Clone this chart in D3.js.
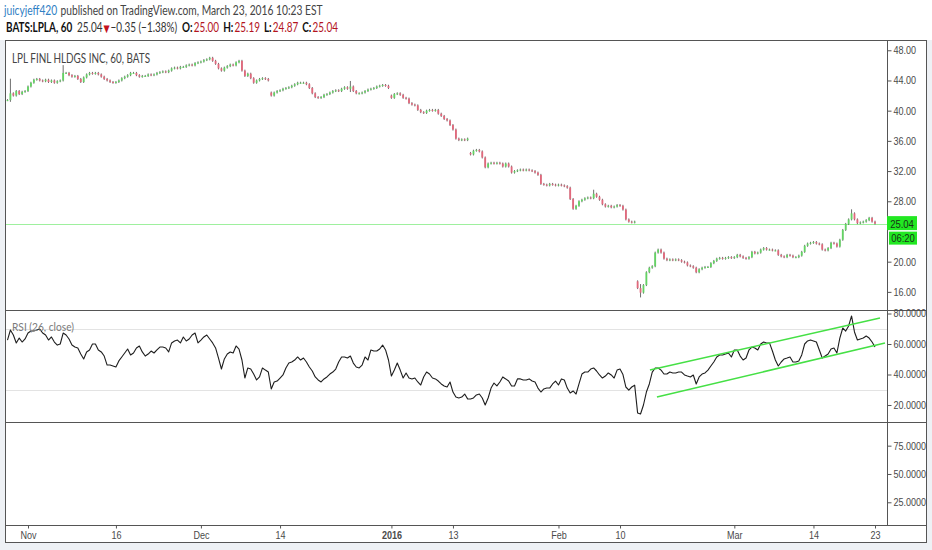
<!DOCTYPE html>
<html><head><meta charset="utf-8">
<script src="https://cdn.jsdelivr.net/npm/d3@7"></script>
<style>
html,body{margin:0;padding:0;background:#eef1f5;}
svg{display:block;}
</style></head><body>
<svg id="c" width="932" height="550"></svg>
<script>
// ---------- DATA ----------
// hourly-ish closes, ~3 points per session (2 on half days)
const closes = [
41.4,42.3,42.0,42.6,42.2,42.5,42.6,43.2,43.7,44.1,
44.2,44.0,43.9,44.1,43.8,44.0,43.7,43.9,44.0,45.0,
45.0,44.7,44.5,44.6,44.2,43.8,44.4,44.8,45.0,44.9,
45.0,44.8,44.5,44.2,44.0,43.8,43.7,43.8,44.0,44.3,
44.5,44.7,45.0,45.0,44.7,44.5,44.6,44.6,44.8,44.7,
44.8,45.0,45.1,45.2,45.1,45.3,45.6,45.7,45.6,45.8,
45.8,46.0,46.1,46.0,46.3,46.4,46.5,46.7,46.8,47.0,
46.6,46.2,45.6,45.3,45.7,45.9,46.1,46.0,46.4,46.6,
45.3,44.6,44.9,44.3,43.7,44.0,44.2,44.3,44.2,44.0,
42.0,42.4,42.6,42.7,42.9,43.0,43.1,43.3,43.5,43.7,
43.7,43.7,43.5,43.0,42.3,41.8,41.7,41.8,42.1,42.2,
42.4,42.6,42.7,42.6,42.9,43.1,42.9,43.2,42.6,42.3,
42.3,42.4,42.6,42.8,42.9,43.0,43.2,43.3,43.4,43.3,
43.0,41.7,42.2,42.3,42.1,41.7,41.6,41.0,40.8,40.7,
40.1,39.8,39.7,40.0,40.1,40.0,40.1,39.6,39.3,38.9,
38.7,38.1,37.5,36.3,36.1,36.2,36.1,36.3,34.2,34.7,
34.8,34.6,33.8,32.5,33.0,33.1,33.0,33.1,33.0,32.6,
33.0,32.6,31.8,32.0,32.1,32.2,32.1,32.2,32.1,32.0,
31.8,31.5,30.3,30.2,30.1,30.3,30.2,30.1,30.2,30.1,
30.0,29.8,28.3,27.0,27.4,28.0,28.2,28.4,28.5,28.4,
29.0,28.6,28.2,27.6,27.3,27.4,27.2,27.3,27.5,27.4,
26.9,25.6,25.3,25.2,25.3,16.5,15.9,16.9,18.6,19.2,
19.4,21.2,21.6,21.2,20.4,20.2,20.3,20.2,20.3,20.2,
20.0,19.9,19.5,19.4,19.2,18.6,19.0,19.2,19.3,19.3,
19.8,20.1,20.4,20.5,20.4,20.5,20.6,20.5,20.6,20.9,
20.7,20.5,20.4,20.6,21.3,21.1,21.2,21.6,21.8,21.6,
21.6,21.5,21.5,20.9,20.7,20.6,20.9,20.8,20.6,20.6,
20.8,21.3,22.1,22.4,22.5,22.6,22.4,22.3,21.6,21.5,
21.8,22.5,22.4,22.0,22.9,24.2,25.0,25.6,26.4,25.6,
25.1,25.2,25.3,25.5,25.8,25.3,25.04
];
// opening prices of the bars that gap away from the previous close
const gapIdx   = [90, 131, 158, 215];
const gapOpen  = [42.4, 42.0, 34.4, 17.4];
// long wicks visible in the picture
const wickIdx  = [1, 19, 117, 200, 216, 288];
const wickHigh = [44.1, 45.9, 43.8, 29.4, 16.9, 26.8];
const wickLow  = [41.3, 44.6, 42.6, 28.4, 15.4, 25.9];

const rsiValues = [
62.6,69.2,65.9,60.7,63.9,61.3,63.3,67.2,68.5,68.5,
69.2,69.8,67.2,65.9,62.6,64.6,61.3,59.3,60.0,67.2,
65.9,63.3,59.3,58.0,57.4,53.4,50.2,54.8,56.1,60.0,
60.0,56.1,54.8,52.1,46.2,46.2,45.6,44.9,48.9,51.5,
54.1,56.7,52.8,54.1,57.4,58.7,54.8,52.1,53.4,55.4,
54.1,56.1,58.0,58.0,57.4,54.8,60.7,62.0,62.6,60.7,
64.6,62.0,63.3,65.9,67.2,60.7,62.6,64.6,65.9,63.3,
60.7,57.4,50.8,43.6,50.2,53.4,54.8,54.1,58.7,56.7,
49.5,37.7,44.3,43.6,40.3,36.4,38.4,44.3,42.9,41.6,
30.5,35.1,35.7,37.7,39.7,44.3,47.5,48.2,49.5,51.5,
49.5,50.8,48.2,44.9,42.3,38.4,36.4,35.1,37.1,38.4,
40.3,41.6,43.6,48.2,51.5,51.5,50.8,52.1,47.5,44.9,
44.3,46.2,51.5,49.5,56.1,55.4,55.4,56.7,59.3,56.1,
49.5,39.0,42.9,47.5,42.9,37.7,41.0,37.7,37.1,37.7,
35.1,33.1,38.4,41.6,40.3,37.7,37.1,35.7,33.8,32.5,
31.8,35.1,28.5,25.2,24.6,25.2,27.2,24.0,23.9,24.6,
26.6,27.2,24.6,20.0,24.6,31.1,34.4,32.5,35.1,38.4,
37.1,35.7,32.5,32.5,37.1,37.1,36.4,36.4,37.1,35.7,
35.1,31.1,28.5,30.5,31.1,31.1,33.8,35.7,33.1,37.1,
36.4,31.1,27.9,29.2,27.2,33.8,40.3,41.6,41.6,43.6,
44.3,42.3,39.7,37.7,39.0,41.0,39.7,37.7,42.9,43.6,
40.0,31.8,29.8,31.8,33.0,14.8,14.1,20.0,28.5,33.8,
41.6,44.3,44.3,42.9,40.3,40.3,41.6,41.0,41.0,41.6,
41.6,39.7,39.0,38.4,39.7,33.8,38.4,40.3,41.0,42.9,
45.6,48.2,51.5,52.8,52.8,53.4,54.1,51.5,56.1,56.1,
52.1,49.5,50.8,56.1,58.0,57.4,56.1,60.0,61.3,60.7,
60.7,55.4,49.5,45.6,48.2,50.2,50.8,51.5,48.2,48.2,
48.9,52.8,60.0,62.0,62.6,62.0,61.3,56.1,50.8,52.1,
53.4,56.7,57.4,54.1,63.9,70.5,68.5,71.8,78.4,67.9,
62.6,63.3,63.9,65.2,63.9,61.3,58.0
];
// drawn channel on the RSI pane: [barIndex, value]
const upperChannel = [[219.2, 42.9], [297.7, 77.0]];
const lowerChannel = [[221.6, 25.2], [299.4, 60.7]];
const rsiBands = [70, 30];

const timeLabels = ["Nov","16","Dec","14","2016","13","Feb","10","Mar","14","23"];
const timeIdx    = [7, 37, 66, 93, 131, 152, 188, 209, 248, 275, 296];
const priceTicks = [16, 20, 28, 32, 36, 40, 44, 48];
const rsiTicks   = [20, 40, 60, 80];
const lowerTicks = [25, 50, 75];
const lastPrice = 25.04;
const barTimer = "06:20";
const quoteLabels = ["O:", "H:", "L:", "C:"];
const quoteValues = ["25.00", "25.19", "24.87", "25.04"];
const changeText = "\u22120.35 (\u22121.38%)";

// ---------- LAYOUT ----------
const svg = d3.select('#c');
const L = 5, R = 927, T = 40, B = 543, AX = 887;
const P1 = [40, 310], P2 = [310, 422], P3 = [422, 525];

svg.append('rect').attr('x',0).attr('y',0).attr('width',932).attr('height',550).attr('fill','#eef1f5');
svg.append('rect').attr('x',0).attr('y',0).attr('width',932).attr('height',T).attr('fill','#ffffff');
svg.append('rect').attr('x',L).attr('y',T).attr('width',R-L).attr('height',B-T).attr('fill','#ffffff');

const x = d3.scaleLinear().domain([timeIdx[0], timeIdx[timeIdx.length-1]]).range([28, 875]);
const yP = d3.scaleLinear().domain([13.6, 49.36]).range([P1[1], P1[0]]);
const yR = d3.scaleLinear().domain([8.85, 82.3]).range([P2[1], P2[0]]);
const yL = d3.scaleLinear().domain([4.95, 95.9]).range([P3[1], P3[0]]);

const defs = svg.append('defs');
function clip(id, y0, y1){
  defs.append('clipPath').attr('id', id).append('rect')
    .attr('x', L+1).attr('y', y0+1).attr('width', AX-L-1).attr('height', y1-y0-1);
}
clip('cp1', P1[0], P1[1]); clip('cp2', P2[0], P2[1]);

function squeeze(sel, f){
  sel.each(function(){
    const w = this.getComputedTextLength();
    this.setAttribute('textLength', (w*f).toFixed(2));
    this.setAttribute('lengthAdjust', 'spacingAndGlyphs');
  });
}
function fit(sel, w){
  sel.attr('textLength', w).attr('lengthAdjust', 'spacingAndGlyphs');
}

// ---------- PRICE PANE ----------
const g1 = svg.append('g').attr('clip-path','url(#cp1)');
g1.append('line').attr('x1',L).attr('x2',AX).attr('y1',Math.round(yP(lastPrice))+0.5).attr('y2',Math.round(yP(lastPrice))+0.5)
  .attr('stroke','#9ef09e').attr('stroke-width',1);

const bars = closes.map((c,i)=>{
  const gi = gapIdx.indexOf(i);
  const o = gi>=0 ? gapOpen[gi] : (i===0 ? c : closes[i-1]);
  const wi = wickIdx.indexOf(i);
  let hi = Math.max(o,c), lo = Math.min(o,c);
  if (wi>=0){ hi = Math.max(hi, wickHigh[wi]); lo = Math.min(lo, wickLow[wi]); }
  return {i, o, c, hi, lo};
});
const cg = g1.append('g');
cg.selectAll('line.w').data(bars).join('line').attr('class','w')
  .attr('x1', d=>x(d.i)).attr('x2', d=>x(d.i))
  .attr('y1', d=>yP(d.hi)-1).attr('y2', d=>yP(d.lo)+1)
  .attr('stroke','#4a4a4a').attr('stroke-width',0.8);
cg.selectAll('rect.b').data(bars).join('rect').attr('class','b')
  .attr('x', d=>x(d.i)-0.9).attr('width',1.8)
  .attr('y', d=>Math.min(yP(d.o),yP(d.c)))
  .attr('height', d=>Math.max(1, Math.abs(yP(d.o)-yP(d.c))))
  .attr('fill', d=> d.c>=d.o ? '#63d463' : '#e2687c');

// ---------- RSI PANE ----------
const g2 = svg.append('g').attr('clip-path','url(#cp2)');
g2.selectAll('line.band').data(rsiBands).join('line').attr('class','band')
  .attr('x1',L).attr('x2',AX).attr('y1',d=>Math.round(yR(d))+0.5).attr('y2',d=>Math.round(yR(d))+0.5)
  .attr('stroke','#e3e3e3').attr('stroke-width',1);
g2.append('path').datum(rsiValues)
  .attr('d', d3.line().x((d,i)=>x(i)).y(d=>yR(d)))
  .attr('fill','none').attr('stroke','#1e1e1e').attr('stroke-width',1.1).attr('stroke-linejoin','round');
[upperChannel, lowerChannel].forEach(ch=>{
  g2.append('line')
    .attr('x1',x(ch[0][0])).attr('y1',yR(ch[0][1]))
    .attr('x2',x(ch[1][0])).attr('y2',yR(ch[1][1]))
    .attr('stroke','#45e045').attr('stroke-width',1.5);
});

// ---------- FRAMES ----------
const frame = svg.append('g').attr('stroke','#555').attr('stroke-width',1).attr('fill','none');
frame.append('rect').attr('x',L+0.5).attr('y',T+0.5).attr('width',R-L-1).attr('height',B-T-1);
frame.append('line').attr('x1',AX+0.5).attr('x2',AX+0.5).attr('y1',T).attr('y2',P3[1]);
[P1[1], P2[1], P3[1]].forEach(yy=>{
  frame.append('line').attr('x1',L).attr('x2',R).attr('y1',yy+0.5).attr('y2',yy+0.5);
});

// ---------- AXES ----------
const axFont = '"Liberation Sans", Arial, sans-serif';
function styleAxis(g){
  g.select('.domain').remove();
  g.selectAll('line').attr('stroke','#555');
  g.selectAll('text').attr('fill','#4a4a4a').style('font-family',axFont).style('font-size','10.5px');
}
const a1 = svg.append('g').attr('transform',`translate(${AX+0.5},0)`)
  .call(d3.axisRight(yP).tickValues(priceTicks).tickSize(4).tickPadding(2).tickFormat(d3.format('.2f')));
styleAxis(a1);
const a2 = svg.append('g').attr('transform',`translate(${AX+0.5},0)`)
  .call(d3.axisRight(yR).tickValues(rsiTicks).tickSize(4).tickPadding(2).tickFormat(d3.format('.4f')));
styleAxis(a2);
const a3 = svg.append('g').attr('transform',`translate(${AX+0.5},0)`)
  .call(d3.axisRight(yL).tickValues(lowerTicks).tickSize(4).tickPadding(2).tickFormat(d3.format('.4f')));
styleAxis(a3);
const a4 = svg.append('g').attr('transform',`translate(0,${P3[1]+0.5})`)
  .call(d3.axisBottom(x).tickValues(timeIdx).tickSize(3).tickPadding(3).tickFormat((d,i)=>timeLabels[i]));
styleAxis(a4);
a4.selectAll('text').filter((d,i)=>timeLabels[i]==='2016').style('font-weight','bold');
[a1,a2,a3,a4].forEach(a=>squeeze(a.selectAll('text'), 0.86));

// last price + timer boxes
const yl = yP(lastPrice);
svg.append('rect').attr('x',AX).attr('y',yl-7.5).attr('width',30).attr('height',14).attr('fill','#22e822');
svg.append('text').attr('x',AX+15).attr('y',yl+4).attr('text-anchor','middle')
  .style('font-family',axFont).style('font-size','11px').attr('fill','#173217').text(lastPrice.toFixed(2))
  .call(s=>squeeze(s,0.86));
svg.append('rect').attr('x',AX+2).attr('y',yl+8).attr('width',28).attr('height',13).attr('fill','#22e822');
svg.append('text').attr('x',AX+16).attr('y',yl+18.5).attr('text-anchor','middle')
  .style('font-family',axFont).style('font-size','11px').attr('fill','#173217').text(barTimer)
  .call(s=>squeeze(s,0.86));

// ---------- TEXTS ----------
const tf = 'Lato, "Open Sans", sans-serif';
// lay out a row of separate text pieces, then compress the row horizontally to a target width
function row(pieces, x0, y, targetW, size){
  const g = svg.append('g');
  let cx = 0;
  pieces.forEach(p=>{
    const t = g.append('text').attr('x',cx).attr('y',y).text(p.t)
      .style('font-family', p.font || tf).style('font-size', (p.size||size)+'px').attr('fill',p.fill);
    if (p.bold) t.style('font-weight','bold');
    cx += t.node().getComputedTextLength() + (p.gap||0);
  });
  const s = targetW / cx;
  g.attr('transform', `translate(${x0},0) scale(${s},1)`);
  return g;
}
row([
  {t:'juicyjeff420', fill:'#2f80c4', gap:4},
  {t:'published on TradingView.com, March 23, 2016 10:23 EST', fill:'#444'}
], 4, 15, 319, 13);

const line2 = [
  {t:'BATS:LPLA, 60', fill:'#111', bold:true, gap:6},
  {t:lastPrice.toFixed(2), fill:'#333', gap:1.5},
  {t:'\u25BC', fill:'#c4121c', font:'"DejaVu Sans", sans-serif', size:10, gap:1},
  {t:changeText, fill:'#333', gap:6}
];
quoteLabels.forEach((lab,k)=>{
  line2.push({t:lab, fill:'#111', bold:true, gap:1.5});
  line2.push({t:quoteValues[k], fill:'#b3141d', gap: k<3 ? 5 : 0});
});
row(line2, 6, 32, 332, 12.5);

svg.append('text').attr('x',12).attr('y',63).text('LPL FINL HLDGS INC, 60, BATS')
  .style('font-family',tf).style('font-size','12.5px').attr('fill','#444').call(s=>fit(s,138));
svg.append('text').attr('x',12).attr('y',331).text('RSI (26, close)')
  .style('font-family',tf).style('font-size','12px').attr('fill','#7a7a7a').call(s=>fit(s,62));
</script>
</body></html>
